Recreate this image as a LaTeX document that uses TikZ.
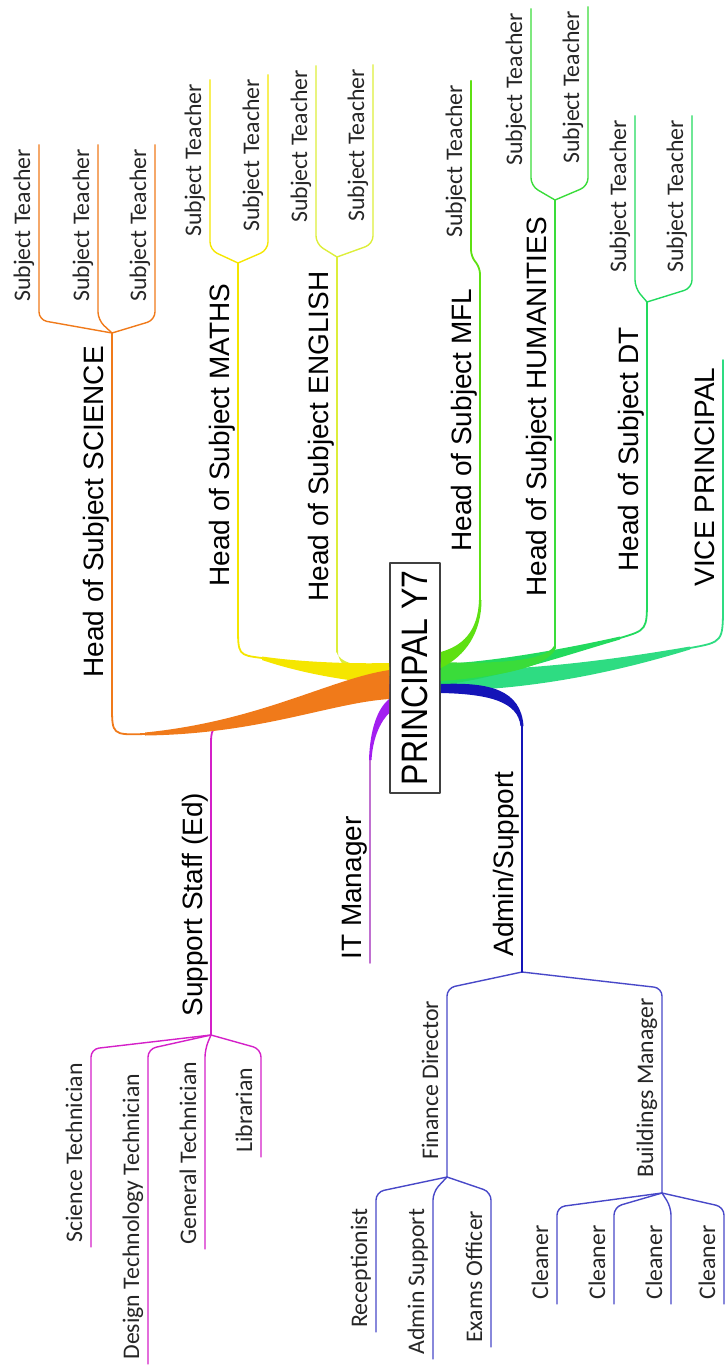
\documentclass[tikz,border=0pt]{standalone}
\usepackage{fontspec}
\setmainfont{Liberation Sans}
\newfontfamily\leaffont{Carlito}
\definecolor{csci}{HTML}{F07A1A}
\definecolor{cmat}{HTML}{F5E600}
\definecolor{ceng}{HTML}{DDEE3A}
\definecolor{cmfl}{HTML}{5EE012}
\definecolor{chum}{HTML}{3ADC3A}
\definecolor{cdt}{HTML}{22DA5E}
\definecolor{cvice}{HTML}{2EDC82}
\definecolor{csup}{HTML}{D420C8}
\definecolor{cit}{HTML}{A31FF0}
\definecolor{citl}{HTML}{C070D0}
\definecolor{cadm}{HTML}{1414B8}
\definecolor{cadml}{HTML}{4848C8}
\begin{document}
\begin{tikzpicture}[x=0.5pt,y=-0.5pt,line cap=round,line join=round,
	head/.style={rotate=90,anchor=base west,inner xsep=2pt,inner ysep=0pt,font=\fontsize{14}{16}\selectfont},
	leaf/.style={rotate=90,anchor=base west,inner xsep=2pt,inner ysep=0pt,text=black!85,font=\leaffont\fontsize{11.9}{13}\selectfont},
	stem/.style={line width=0.9pt},
	twig/.style={line width=0.7pt,rounded corners=4pt}]
	\useasboundingbox (0,0) rectangle (725,1365);
	% centre
	\node[draw=black!75,line width=0.8pt,fill=white,rotate=90,minimum width=115pt,minimum height=25pt,inner sep=0pt,font=\fontsize{16}{18}\selectfont] (p) at (415,678) {\scalebox{1}[1.15]{PRINCIPAL Y7}};
	\path
	(112,333) coordinate (fS)
	(238,263) coordinate (fM)
	(337,257) coordinate (fE)
	(480,268) coordinate (fL)
	(555,200) coordinate (fH)
	(647,302) coordinate (fD)
	(723,360) coordinate (fV)
	(211,1035) coordinate (fT)
	(370,963) coordinate (fI)
	(522,972) coordinate (fA)
	(447,1177) coordinate (fF)
	(662,1193) coordinate (fB)
	;
	% first level
	\node[head] (hsci) at (103,682) {Head of Subject SCIENCE};
	\node[head] (hmat) at (229,591) {Head of Subject MATHS};
	\node[head] (heng) at (328,606) {Head of Subject ENGLISH};
	\node[head] (hmfl) at (471,556) {Head of Subject MFL};
	\node[head] (hhum) at (546,601) {Head of Subject HUMANITIES};
	\node[head] (hdt) at (638,576) {Head of Subject DT};
	\node[head] (vice) at (714,591) {VICE PRINCIPAL};
	\node[head] (sup) at (202,1021) {Support Staff (Ed)};
	\node[head] (it) at (361,964) {IT Manager};
	\node[head] (adm) at (513,961) {Admin/Support};
	\node[leaf] (fin) at (438,1164) {Finance Director};
	\node[leaf] (bld) at (653,1182) {Buildings Manager};
	% leaves
	\foreach \nm/\x/\y in {sci1/39/302,sci2/98/302,sci3/155/302,mat1/210/237,mat2/268/232,eng1/316/223,eng2/373/222,mfl1/471/238,hum1/531/166,hum2/588/164,dt1/635/273,dt2/692/273}
	\node[leaf] (\nm) at (\x-9,\y+4) {Subject Teacher};
	\foreach \nm/\x/\y/\lbl in {tec1/91/1243/Science Technician,tec2/148/1360/Design Technology Technician,tec3/205/1245/General Technician,tec4/261/1153/Librarian,fin1/376/1328/Receptionist,fin2/433/1355/Admin Support,fin3/491/1343/Exams Officer,cln1/557/1300/Cleaner,cln2/614/1300/Cleaner,cln3/671/1300/Cleaner,cln4/724/1300/Cleaner}
	\node[leaf] (\nm) at (\x-9,\y+4) {\lbl};
	% twigs
	\foreach \nm/\x in {sci1/39,sci2/98,sci3/155}
	\draw[twig,csci] (fS) -- (\x,320) -- ([xshift=4.5pt]\nm.base east);
	\foreach \nm/\x in {mat1/210,mat2/268}
	\draw[twig,cmat] (fM) -- (\x,250) -- ([xshift=4.5pt]\nm.base east);
	\foreach \nm/\x in {eng1/316,eng2/373}
	\draw[twig,ceng] (fE) -- (\x,244) -- ([xshift=4.5pt]\nm.base east);
	\foreach \nm/\x in {hum1/531,hum2/588}
	\draw[twig,chum] (fH) -- (\x,186) -- ([xshift=4.5pt]\nm.base east);
	\foreach \nm/\x in {dt1/635,dt2/692}
	\draw[twig,cdt] (fD) -- (\x,288) -- ([xshift=4.5pt]\nm.base east);
	\foreach \nm/\x in {tec1/91,tec2/148,tec3/205,tec4/261}
	\draw[twig,csup] (fT) -- (\x,1049) -- ([xshift=4.5pt]\nm.base west);
	\draw[twig,cadml] (fA) -- (447,988) -- (fF);
	\draw[twig,cadml] (fA) -- (662,988) -- (fB);
	\foreach \nm/\x in {fin1/376,fin2/433,fin3/491}
	\draw[twig,cadml] (fF) -- (\x,1192) -- ([xshift=4.5pt]\nm.base west);
	\foreach \nm/\x in {cln1/557,cln2/614,cln3/671,cln4/724}
	\draw[twig,cadml] (fB) -- (\x,1207) -- ([xshift=4.5pt]\nm.base west);
	% stems and tapered branches
	\draw[stem,ceng] (fE) -- (337,652);
	\fill[ceng] (336,650) .. controls (338,664) and (360,667) .. (p.north |- 0,667) -- (p.north |- 0,676) .. controls (360,675) and (337,670) .. (338,650) -- cycle;
	\draw[stem,cmat] (fM) -- (238,625) .. controls (238,655) .. (262,658);
	\fill[cmat] (262,656.5) .. controls (300,662) and (350,664) .. (p.north |- 0,663) -- (p.north |- 0,684) .. controls (350,682) and (300,673) .. (262,660) -- cycle;
	\draw[stem,csup] (fT) -- (211,748) .. controls (211,728) .. (228,725);
	\fill[csup] (228,724) .. controls (280,706) and (340,684) .. (p.north |- 0,677) -- (p.north |- 0,692) .. controls (340,700) and (280,716) .. (228,727) -- cycle;
	\draw[stem,csci] (fS) -- (112,705) .. controls (112,735) .. (145,734);
	\fill[csci] (145,732.5) .. controls (260,721) and (330,679) .. (p.north |- 0,670) -- (p.north |- 0,699) .. controls (330,703) and (260,734) .. (145,735.5) -- cycle;
	\draw[stem,citl] (fI) -- (370,758);
	\fill[cit] (369,760) .. controls (370,728) and (378,708) .. (p.north |- 0,699) -- (p.north |- 0,713) .. controls (382,720) and (373,735) .. (371.5,760) -- cycle;
	\draw[stem,cvice] (fV) -- (723,605) .. controls (723,642) .. (690,648);
	\fill[cvice] (690,646.5) .. controls (600,662) and (520,671) .. (p.south |- 0,670) -- (p.south |- 0,691) .. controls (520,690) and (600,677) .. (690,649.5) -- cycle;
	\draw[stem,cdt] (fD) -- (647,598) .. controls (647,630) .. (620,638);
	\fill[cdt] (620,636.5) .. controls (560,650) and (490,662) .. (p.south |- 0,664) -- (p.south |- 0,685) .. controls (500,678) and (570,654) .. (620,639.5) -- cycle;
	\draw[stem,chum] (fH) -- (555,648);
	\fill[chum] (554,646) .. controls (545,662) and (490,664) .. (p.south |- 0,662) -- (p.south |- 0,681) .. controls (495,677) and (548,668) .. (556,648) -- cycle;
	\draw[stem,cmfl,rounded corners=3pt] (480,602) -- (fL) -- (471,256) -- ([xshift=4.5pt]mfl1.base east);
	\fill[cmfl] (479,600) .. controls (478,632) and (462,646) .. (p.south |- 0,652) -- (p.south |- 0,668) .. controls (466,656) and (481.5,632) .. (481.5,600) -- cycle;
	\fill[cadm] (p.south |- 0,684) .. controls (490,682) and (521,690) .. (523.5,726) -- (520.5,726) .. controls (518,702) and (490,694) .. (p.south |- 0,693) -- cycle;
	\draw[stem,cadm] (522,724) -- (fA);
\end{tikzpicture}
\end{document}
